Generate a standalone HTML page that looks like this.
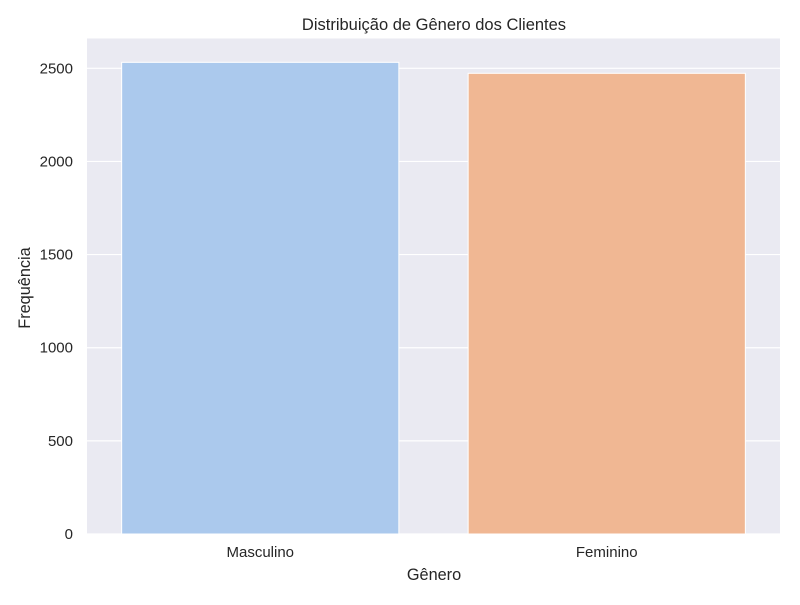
<!DOCTYPE html>
<html><head><meta charset="utf-8"><style>
body{margin:0;background:#fff;}
svg text{font-family:"Liberation Sans","DejaVu Sans",sans-serif;fill:#262626;}
</style></head><body>
<svg id="chart" width="800" height="600" xmlns="http://www.w3.org/2000/svg">
<rect x="0" y="0" width="800" height="600" fill="#fff"/>
<rect x="87" y="38.5" width="693" height="495.5" fill="#eaeaf2"/>
<g id="grid"></g>
<g id="bars"></g>
<g id="yticks"></g>
<g id="xticks"></g>
<text x="434" y="30" font-size="16.5" text-anchor="middle">Distribuição de Gênero dos Clientes</text>
<text x="434" y="580" font-size="16.3" text-anchor="middle">Gênero</text>
<text x="30" y="288" font-size="16.3" text-anchor="middle" transform="rotate(-90 30 288)">Frequência</text>
</svg>
<script>
const categories = ["Masculino", "Feminino"];
const counts = [2532, 2473];
const colors = ["#abc9ed", "#f0b793"];
const yTicks = [0, 500, 1000, 1500, 2000, 2500];

const ns = "http://www.w3.org/2000/svg";
const left = 87, right = 780, y0 = 534, pxPerUnit = (534 - 68.3) / 2500;
const yScale = v => y0 - v * pxPerUnit;
const band = (right - left) / categories.length;
const xCenter = i => left + band * (i + 0.5);
function mk(tag, attrs, parent) {
  const e = document.createElementNS(ns, tag);
  for (const k in attrs) e.setAttribute(k, attrs[k]);
  parent.appendChild(e);
  return e;
}
const grid = document.getElementById("grid");
const yt = document.getElementById("yticks");
yTicks.forEach(t => {
  const l = mk("line", {x1: left, x2: right, y1: yScale(t), y2: yScale(t), stroke: "#fff", "stroke-width": 1.2}, grid);
  
  
  const tx = mk("text", {x: 73, y: yScale(t) + 5, "font-size": 15, "text-anchor": "end"}, yt);
  tx.textContent = t;
  
  
});
const bars = document.getElementById("bars");
const xt = document.getElementById("xticks");
categories.forEach((c, i) => {
  const w = band * 0.8;
  const r = mk("rect", {x: xCenter(i) - w / 2, y: yScale(counts[i]), width: w, height: y0 - yScale(counts[i]), fill: colors[i], stroke: "#fff", "stroke-width": 1}, bars);
  
  
  const tx = mk("text", {x: xCenter(i), y: 557, "font-size": 15, "text-anchor": "middle"}, xt);
  tx.textContent = c;
  
  
});
</script>
</body></html>
